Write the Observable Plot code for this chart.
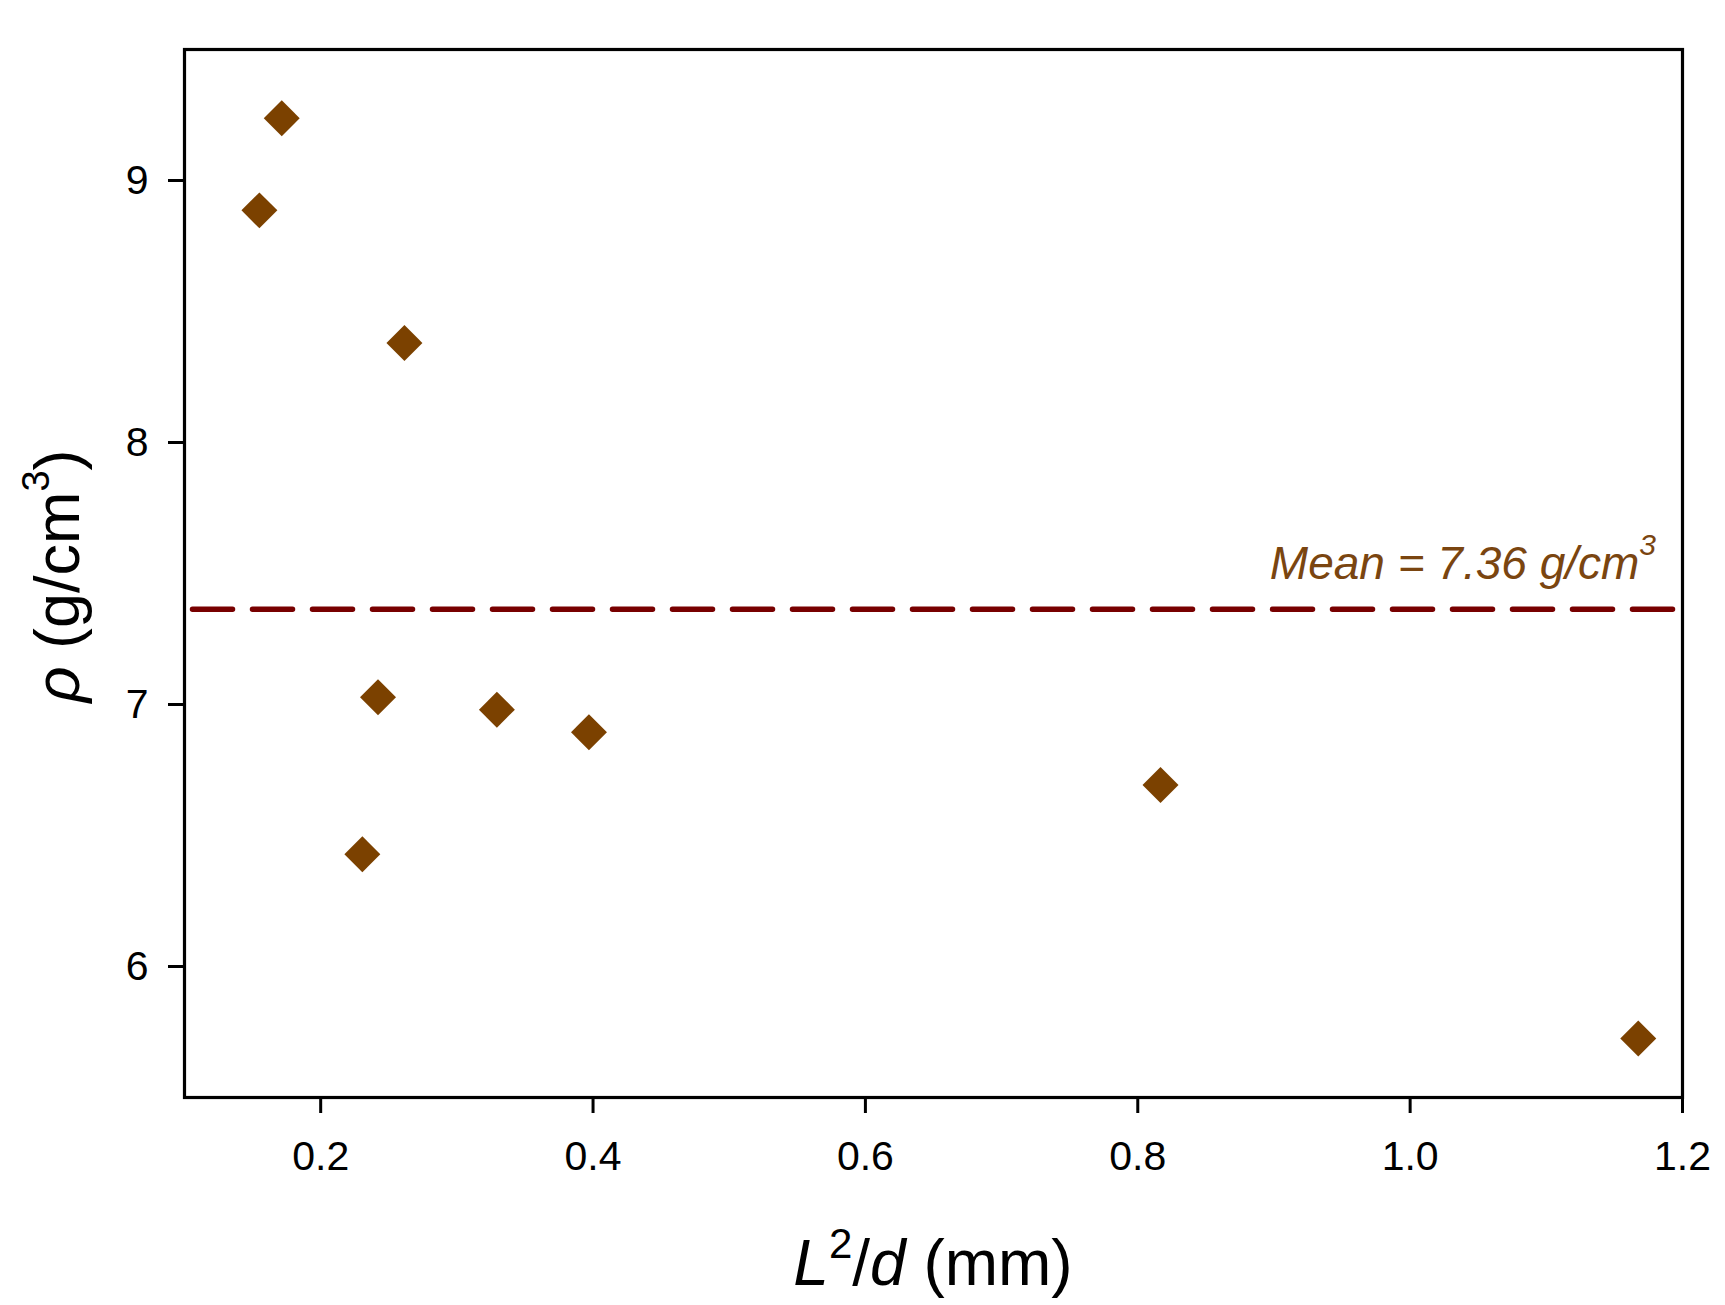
<!DOCTYPE html>
<html><head><meta charset="utf-8">
<script src="https://cdn.jsdelivr.net/npm/d3@7"></script>
<script src="https://cdn.jsdelivr.net/npm/@observablehq/plot@0.6"></script>
<style>body{margin:0;background:#fff;} svg{display:block}</style>
</head><body><div id="chart"></div>
<script>
const ratioL2d = [0.155, 0.1714, 0.2306, 0.2421, 0.2615, 0.3294, 0.397, 0.8167, 1.1675];
const density = [8.886, 9.238, 6.4285, 7.0275, 8.380, 6.980, 6.894, 6.693, 5.725];
const meanDensity = 7.36;
const xTicks = [0.2, 0.4, 0.6, 0.8, 1.0, 1.2];
const yTicks = [6, 7, 8, 9];
const points = ratioL2d.map((x, i) => ({x, y: density[i]}));

const W = 1725, H = 1305, mL = 184, mR = 43, mT = 49, mB = 208;
const plot = Plot.plot({
  width: W, height: H, marginLeft: mL, marginRight: mR, marginTop: mT, marginBottom: mB,
  style: {fontFamily: "'Liberation Sans', Arial, sans-serif", fontSize: "41px", color: "#000", background: "#fff"},
  x: {domain: [0.1, 1.2], label: null},
  y: {domain: [5.5, 9.5], label: null},
  marks: [
    Plot.ruleY([meanDensity], {stroke: "#780000", strokeWidth: 5.5, strokeDasharray: "40,20", strokeDashoffset: 51.5, strokeLinecap: "round", dy: -1}),
    Plot.dot(points, {x: "x", y: "y", symbol: "diamond2", r: 16.2, fill: "#7b4100", stroke: "none"}),
    Plot.axisX({ticks: xTicks, tickFormat: d3.format(".1f"), tickSize: 16, tickPadding: 27, strokeWidth: 3, fontSize: 41, label: null}),
    Plot.axisY({ticks: yTicks, tickFormat: d3.format("d"), tickSize: 16, tickPadding: 20, strokeWidth: 3, fontSize: 41, label: null}),
    Plot.frame({stroke: "#000", strokeWidth: 3.2})
  ]
});
document.getElementById("chart").appendChild(plot);

const svg = d3.select(plot);
const sx = plot.scale("x"), sy = plot.scale("y");
const cx = (mL + W - mR) / 2, cy = (mT + H - mB) / 2;

// x title
const xt = svg.append("text").attr("x", cx).attr("y", 1285).attr("text-anchor", "middle")
  .attr("font-size", 64).attr("fill", "#000");
xt.append("tspan").attr("font-style", "italic").text("L");
xt.append("tspan").attr("font-size", 42).attr("dy", -27).text("2");
xt.append("tspan").attr("dy", 27).text("/");
xt.append("tspan").attr("font-style", "italic").text("d");
xt.append("tspan").text(" (mm)");

// y title
const yt = svg.append("text").attr("transform", `translate(79,${cy + 3}) rotate(-90)`)
  .attr("text-anchor", "middle").attr("font-size", 63).attr("fill", "#000");
yt.append("tspan").attr("font-style", "italic").text("ρ");
yt.append("tspan").text(" (g/cm");
yt.append("tspan").attr("font-size", 38).attr("dy", -30).text("3");
yt.append("tspan").attr("dy", 30).text(")");

// mean label
const mt = svg.append("text").attr("x", sx.apply(1.2) - 26).attr("y", sy.apply(meanDensity) - 31)
  .attr("text-anchor", "end").attr("font-size", 46).attr("font-style", "italic").attr("fill", "#7a4510");
mt.append("tspan").text(`Mean = ${meanDensity.toFixed(2)} g/cm`);
mt.append("tspan").attr("font-size", 30).attr("dy", -24).text("3");
</script>
</body></html>
